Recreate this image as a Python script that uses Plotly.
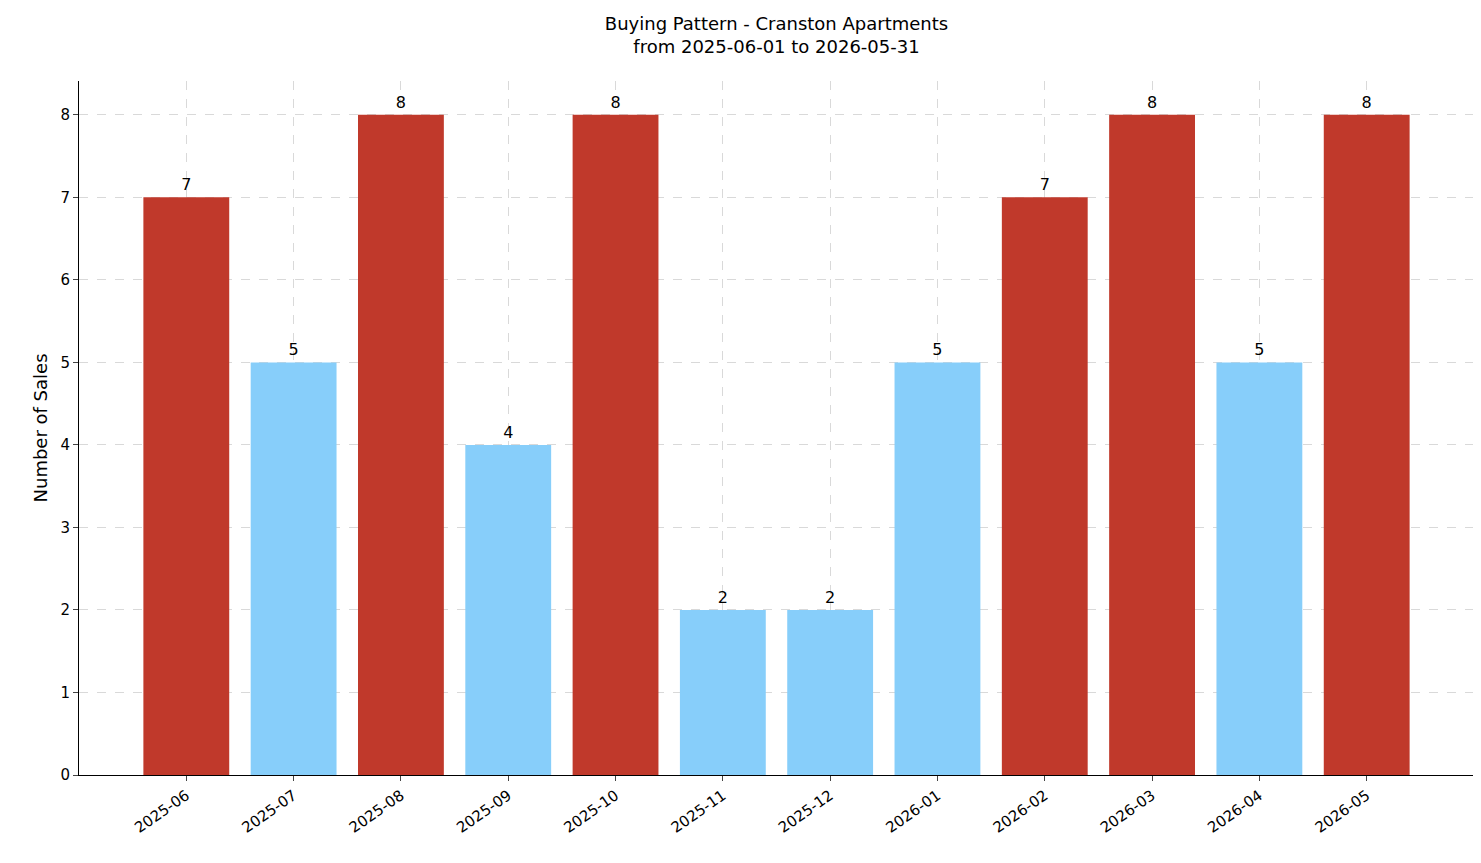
import plotly.graph_objects as go

months = ["2025-06", "2025-07", "2025-08", "2025-09", "2025-10", "2025-11",
          "2025-12", "2026-01", "2026-02", "2026-03", "2026-04", "2026-05"]
sales = [7, 5, 8, 4, 8, 2, 2, 5, 7, 8, 5, 8]

RED = "#c0392b"
BLUE = "#87cefa"
colors = [RED if s >= 6 else BLUE for s in sales]

fig = go.Figure(go.Bar(
    x=list(range(len(months))), y=sales, width=0.8,
    marker=dict(color=colors, line=dict(width=0)),
    text=[str(s) for s in sales], textposition="outside",
    textfont=dict(size=16, color="black"), cliponaxis=False,
))

grid = dict(showgrid=True, gridcolor="#d9d9d9", griddash="dash", gridwidth=1)
fig.update_layout(
    width=1481, height=863, plot_bgcolor="white", paper_bgcolor="white",
    font=dict(family="DejaVu Sans", size=15, color="black"),
    margin=dict(l=71, r=15, t=73, b=96),
    title=dict(text="Buying Pattern - Cranston Apartments<br>from 2025-06-01 to 2026-05-31",
               x=0.5, xref="paper", y=0.975, yanchor="top", font=dict(size=18)),
    bargap=0.2, showlegend=False,
    xaxis=dict(range=[-1, 12], tickmode="array", tickvals=list(range(len(months))),
               ticktext=months, tickangle=-35, ticks="outside", ticklen=5,
               showline=True, linecolor="black", zeroline=False, **grid),
    yaxis=dict(range=[0, 8.41], dtick=1, ticks="outside", ticklen=5,
               showline=True, linecolor="black", zeroline=False,
               title=dict(text="Number of Sales", standoff=8), **grid),
)
fig.write_html("out.html")
